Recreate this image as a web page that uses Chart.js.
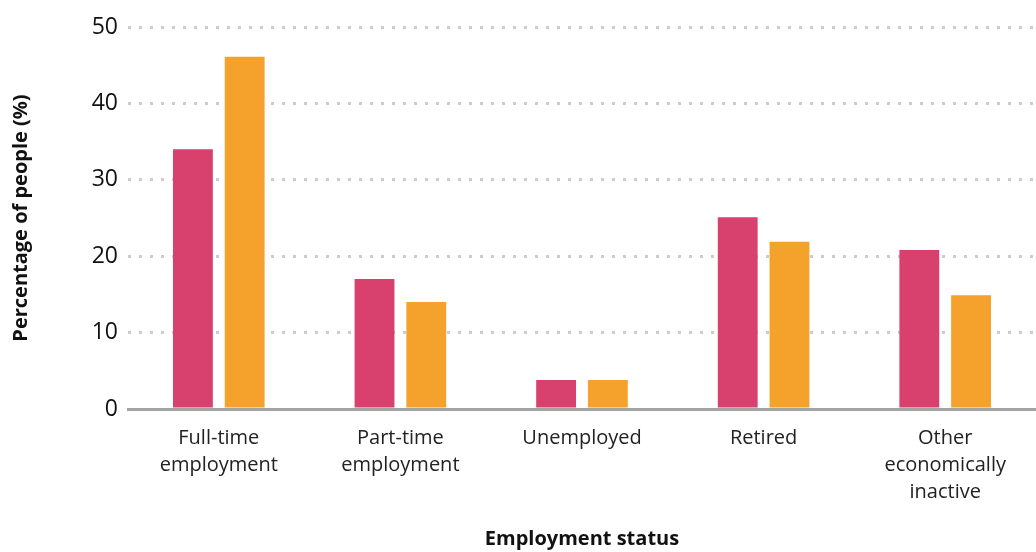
<!DOCTYPE html>
<html>
<head>
<meta charset="utf-8">
<script src="https://cdn.jsdelivr.net/npm/chart.js@4"></script>
<style>
  body { margin: 0; background: #fff; }
  #wrap { width: 1036px; height: 552px; position: relative; }
</style>
</head>
<body>
<div id="wrap"><canvas id="myChart"></canvas></div>
<script>
const labels = [
    ['Full-time', 'employment'],
    ['Part-time', 'employment'],
    'Unemployed',
    'Retired',
    ['Other', 'economically', 'inactive']
];
const seriesA = [34, 17, 3.8, 25.1, 20.8];
const seriesB = [46.1, 14, 3.8, 21.9, 14.9];
const yTicks = [0, 10, 20, 30, 40, 50];

const fontFamily = '"Open Sans", Lato, sans-serif';

const data = {
    labels: labels,
    datasets: [{
        label: 'Group A',
        backgroundColor: '#d8406e',
        data: seriesA,
        categoryPercentage: 0.57,
        barPercentage: 0.77
    }, {
        label: 'Group B',
        backgroundColor: '#f5a22d',
        data: seriesB,
        categoryPercentage: 0.57,
        barPercentage: 0.77
    }]
};

const config = {
    type: 'bar',
    data: data,
    options: {
        responsive: true,
        maintainAspectRatio: false,
        animation: false,
        layout: { padding: { top: 27, right: 0, bottom: 0, left: 0 } },
        plugins: {
            legend: { display: false },
            tooltip: { enabled: false }
        },
        scales: {
            x: {
                grid: { display: false },
                border: { display: true, color: '#a3a3a3', width: 3 },
                afterFit: axis => { axis.height = 143; },
                ticks: {
                    color: '#222',
                    font: { family: fontFamily, size: 20, weight: 'normal', lineHeight: 1.35 },
                    padding: 8,
                    maxRotation: 0
                },
                title: {
                    display: true,
                    text: 'Employment status',
                    color: '#111',
                    font: { family: fontFamily, size: 20, weight: 'bold' },
                    padding: { top: 0, bottom: 1 }
                }
            },
            y: {
                min: 0,
                max: 50,
                afterBuildTicks: axis => {
                    axis.ticks = yTicks.map(v => ({ value: v }));
                },
                afterFit: axis => { axis.width = 128; },
                grid: {
                    color: '#cccccc',
                    lineWidth: 3,
                    drawTicks: false
                },
                border: { display: false, dash: [3, 8] },
                ticks: {
                    color: '#111',
                    font: { family: fontFamily, size: 23 },
                    padding: 10
                },
                title: {
                    display: true,
                    text: 'Percentage of people (%)',
                    color: '#111',
                    font: { family: fontFamily, size: 20, weight: 'bold' },
                    padding: { top: 9, bottom: 0 }
                }
            }
        }
    }
};

new Chart(document.getElementById('myChart'), config);
</script>
</body>
</html>
